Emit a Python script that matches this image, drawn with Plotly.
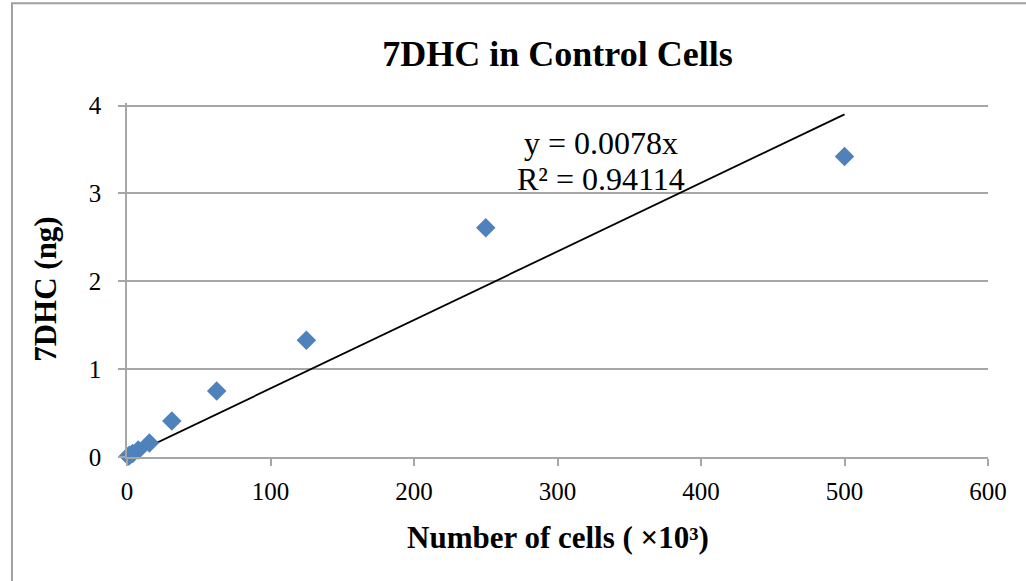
import plotly.graph_objects as go

# Cell count (thousands) and measured 7DHC (ng)
cells_k = [0.98, 1.95, 3.9, 7.8, 15.6, 31.25, 62.5, 125, 250, 500]
dhc_ng = [0.01, 0.02, 0.04, 0.08, 0.16, 0.41, 0.75, 1.33, 2.61, 3.42]

# Linear trendline through the origin
slope = 0.0078
r_squared = 0.94114

x_ticks = [0, 100, 200, 300, 400, 500, 600]
y_ticks = [0, 1, 2, 3, 4]

serif = "Liberation Serif, Times New Roman, serif"
grid = "#a6a6a6"

line_x = [min(cells_k), max(cells_k)]
line_y = [slope * v for v in line_x]

fig = go.Figure()
fig.add_trace(go.Scatter(
    x=line_x, y=line_y, mode="lines",
    line=dict(color="black", width=1.8),
    showlegend=False, hoverinfo="skip",
))
fig.add_trace(go.Scatter(
    x=cells_k, y=dhc_ng, mode="markers",
    marker=dict(symbol="diamond", size=15, color="#4f81bd"),
    cliponaxis=False, showlegend=False,
))

# Trendline equation and fit quality
fig.add_annotation(
    x=330, y=3.57, xref="x", yref="y",
    text=f"y = {slope}x",
    showarrow=False, xanchor="center", yanchor="middle",
    font=dict(family=serif, size=32, color="black"),
)
fig.add_annotation(
    x=330, y=3.17, xref="x", yref="y",
    text=f"R² = {r_squared}",
    showarrow=False, xanchor="center", yanchor="middle",
    font=dict(family=serif, size=32, color="black"),
)

# Axis titles
fig.add_annotation(
    x=0.5006, y=-0.228, xref="paper", yref="paper",
    text="<b>Number of cells ( ×10³)</b>",
    showarrow=False, xanchor="center", yanchor="middle",
    font=dict(family=serif, size=31, color="black"),
)
fig.add_annotation(
    x=-0.0941, y=0.475, xref="paper", yref="paper",
    text="<b>7DHC (ng)</b>", textangle=-90,
    showarrow=False, xanchor="center", yanchor="middle",
    font=dict(family=serif, size=31, color="black"),
)

# Outer chart frame
fig.add_shape(
    type="rect", xref="paper", yref="paper",
    x0=-0.1336, x1=1.2, y0=-0.6, y1=1.282,
    line=dict(color="#a0a0a0", width=2), layer="below",
)

fig.update_layout(
    width=1026, height=581,
    margin=dict(l=127, r=38, t=103, b=124),
    paper_bgcolor="white", plot_bgcolor="white",
    title=dict(
        text="<b>7DHC in Control Cells</b>",
        x=0.5, xref="paper", xanchor="center",
        y=1 - 53 / 581, yref="container", yanchor="middle",
        font=dict(family=serif, size=36, color="black"),
    ),
    xaxis=dict(
        range=[0, 600], tickvals=x_ticks,
        showgrid=False, zeroline=False,
        showline=True, linecolor=grid, linewidth=1.5,
        ticks="outside", ticklen=7, tickcolor=grid, tickwidth=1.5,
        ticklabelstandoff=4,
        tickfont=dict(family=serif, size=25, color="black"),
    ),
    yaxis=dict(
        range=[0, 4.03], tickvals=y_ticks,
        showgrid=True, gridcolor=grid, gridwidth=1.5,
        zeroline=False,
        showline=True, linecolor=grid, linewidth=1.5,
        ticks="outside", ticklen=7, tickcolor=grid, tickwidth=1.5,
        ticklabelstandoff=12,
        tickfont=dict(family=serif, size=25, color="black"),
    ),
)

fig.write_html("out.html")
